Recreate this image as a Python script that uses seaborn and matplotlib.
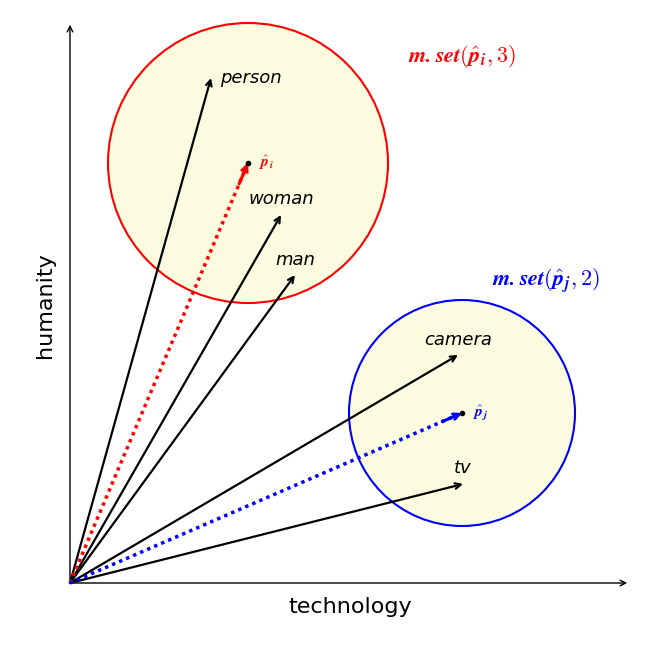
import matplotlib
matplotlib.use("Agg")
import matplotlib.pyplot as plt
from matplotlib.patches import Circle
import seaborn as sns

sns.set_style("white")
plt.rcParams['mathtext.fontset'] = 'cm'
plt.rcParams['text.color'] = 'black'

words = ["person", "woman", "man", "camera", "tv"]
word_x = [141, 211, 225, 388, 393]
word_y = [505, 368, 308, 228, 99]
centers = ["p_i", "p_j"]
center_x = [178, 392]
center_y = [420, 170]
center_r = [140, 113]
center_k = [3, 2]
center_col = ["red", "blue"]

fig = plt.figure(figsize=(6.55, 6.55), dpi=100)
ax = fig.add_axes([0, 0, 1, 1])
ax.set_xlim(-70, 585)
ax.set_ylim(-72, 583)
ax.axis("off")

for cx, cy, r, c in zip(center_x, center_y, center_r, center_col):
    ax.add_patch(Circle((cx, cy), r, facecolor="#fbfbdf", edgecolor=c, lw=1.5, zorder=1))

ax.annotate("", xy=(560, 0), xytext=(0, 0), arrowprops=dict(arrowstyle="->", lw=1, color="black"))
ax.annotate("", xy=(0, 561), xytext=(0, 0), arrowprops=dict(arrowstyle="->", lw=1, color="black"))
ax.text(280, -24, "technology", ha="center", va="center", fontsize=16, color="black")
ax.text(-25, 278, "humanity", ha="center", va="center", rotation=90, fontsize=16, color="black")

offsets = {"person": (9, 0, "left"), "woman": (0, 16, "center"), "man": (0, 15, "center"),
           "camera": (0, 15, "center"), "tv": (0, 16, "center")}
for w, x, y in zip(words, word_x, word_y):
    ax.annotate("", xy=(x, y), xytext=(0, 0),
                arrowprops=dict(arrowstyle="->", lw=1.6, color="black", shrinkA=0, shrinkB=0), zorder=3)
    dx, dy, ha = offsets[w]
    ax.text(x + dx, y + dy, w, ha=ha, va="center", fontsize=13, style="italic", color="black")

for name, x, y, r, k, c in zip(centers, center_x, center_y, center_r, center_k, center_col):
    sns.lineplot(x=[0, x], y=[0, y], ax=ax, color=c, lw=2.5, linestyle=(0, (1, 1.2)), zorder=4)
    ax.annotate("", xy=(x, y), xytext=(x - 0.05 * x, y - 0.05 * y),
                arrowprops=dict(arrowstyle="->", lw=2.2, color=c, shrinkA=0, shrinkB=0), zorder=4)
    ax.plot([x], [y], "o", color="black", ms=3, zorder=5)
    sub = name.split("_")[1]
    ax.text(x + 11, y, r"$\hat{\mathbfit{p}}_{\mathbfit{%s}}$" % sub, color=c, fontsize=11, va="center")

ax.text(392, 526, r"$\mathbfit{m.set}\mathbf{(}\hat{\mathbfit{p}}_{\mathbfit{i}}\mathbf{,3)}$",
        color="red", fontsize=16, va="center", ha="center")
ax.text(476, 302, r"$\mathbfit{m.set}\mathbf{(}\hat{\mathbfit{p}}_{\mathbfit{j}}\mathbf{,2)}$",
        color="blue", fontsize=16, va="center", ha="center")

fig.savefig("out.png", dpi=100)
